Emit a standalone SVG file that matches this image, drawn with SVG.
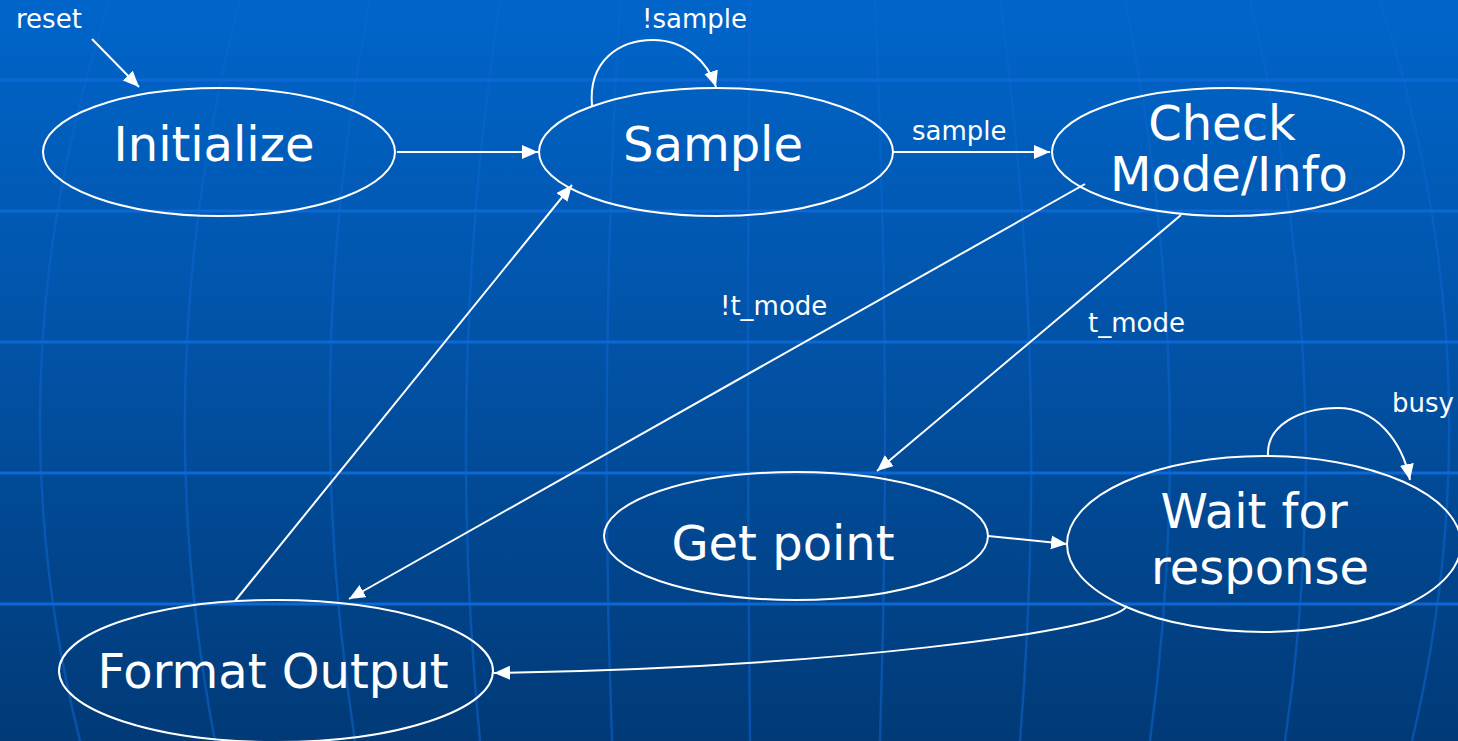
<svg xmlns="http://www.w3.org/2000/svg" width="1458" height="741" viewBox="0 0 1458 741">
  <defs>
    <linearGradient id="bg" x1="0" y1="0" x2="0" y2="1">
      <stop offset="0" stop-color="#0065ca"/>
      <stop offset="0.5" stop-color="#0251a4"/>
      <stop offset="1" stop-color="#013a77"/>
    </linearGradient>
    <marker id="arr" markerUnits="userSpaceOnUse" markerWidth="18" markerHeight="16" refX="16" refY="7" orient="auto">
      <path d="M0,0 L16,7 L0,14 z" fill="#ffffff"/>
    </marker>
    <style>
      .node ellipse { fill: none; stroke: #ffffff; stroke-width: 2; }
      .big { font-family: "DejaVu Sans", Verdana, sans-serif; font-size: 48px; fill: #ffffff; text-anchor: middle; }
      .lbl { font-family: "DejaVu Sans", Verdana, sans-serif; font-size: 26px; fill: #ffffff; }
      .edge { fill: none; stroke: #ffffff; stroke-width: 2; marker-end: url(#arr); }
      .hgrid { stroke: #0c68d4; stroke-width: 3; }
      .vgrid { fill: none; stroke: #0c66d0; stroke-width: 2.5; opacity: 0.55; }
    </style>
  </defs>

  <rect x="0" y="0" width="1458" height="741" fill="url(#bg)"/>

  <g id="grid">
    <path class="vgrid" d="M110,0 Q-13,370 80,741"/>
    <path class="vgrid" d="M240,0 Q144,370 215,741"/>
    <path class="vgrid" d="M370,0 Q298,370 355,741"/>
    <path class="vgrid" d="M500,0 Q444,370 480,741"/>
    <path class="vgrid" d="M620,0 Q598,370 612,741"/>
    <path class="vgrid" d="M750,0 Q746,370 750,741"/>
    <path class="vgrid" d="M875,0 Q892,370 880,741"/>
    <path class="vgrid" d="M1000,0 Q1050,370 1020,741"/>
    <path class="vgrid" d="M1125,0 Q1200,370 1150,741"/>
    <path class="vgrid" d="M1250,0 Q1340,370 1285,741"/>
    <path class="vgrid" d="M1380,0 Q1500,370 1412,741"/>
    <line class="hgrid" x1="0" y1="80" x2="1458" y2="80"/>
    <line class="hgrid" x1="0" y1="211" x2="1458" y2="211"/>
    <line class="hgrid" x1="0" y1="342" x2="1458" y2="342"/>
    <line class="hgrid" x1="0" y1="473" x2="1458" y2="473"/>
    <line class="hgrid" x1="0" y1="604" x2="1458" y2="604"/>
  </g>

  <g id="connectors">
    <line class="edge" x1="92" y1="39" x2="139" y2="87"/>
    <line class="edge" x1="397" y1="152" x2="538" y2="152"/>
    <path class="edge" d="M592,106 C588,60 620,40 653,40 C685,40 708,62 716,87"/>
    <line class="edge" x1="893" y1="152" x2="1050" y2="152"/>
    <line class="edge" x1="1085" y1="184" x2="349" y2="599"/>
    <line class="edge" x1="1181" y1="215" x2="877" y2="471"/>
    <line class="edge" x1="235" y1="601" x2="572" y2="185"/>
    <line class="edge" x1="988" y1="536" x2="1067" y2="544"/>
    <path class="edge" d="M1268,456 C1266,425 1300,408 1338,408 C1375,408 1402,440 1410,480"/>
    <path class="edge" d="M1127,606 C1112,632 820,668 494,673"/>
    <text class="lbl" x="16" y="28">reset</text>
    <text class="lbl" x="642" y="28">!sample</text>
    <text class="lbl" x="912" y="140">sample</text>
    <text class="lbl" x="720" y="315">!t_mode</text>
    <text class="lbl" x="1088" y="332">t_mode</text>
    <text class="lbl" x="1392" y="412">busy</text>
  </g>

  <g id="initialize" class="node">
    <ellipse cx="219" cy="152" rx="176" ry="64"/>
    <text class="big" x="214" y="161">Initialize</text>
  </g>
  <g id="sample" class="node">
    <ellipse cx="716" cy="152" rx="177" ry="64"/>
    <text class="big" x="713" y="161">Sample</text>
  </g>
  <g id="check" class="node">
    <ellipse cx="1228" cy="152" rx="176" ry="64"/>
    <text class="big" x="1222" y="140">Check</text>
    <text class="big" x="1229" y="191">Mode/Info</text>
  </g>
  <g id="getpoint" class="node">
    <ellipse cx="796" cy="536" rx="192" ry="64"/>
    <text class="big" x="783" y="560">Get point</text>
  </g>
  <g id="wait" class="node">
    <ellipse cx="1264" cy="544" rx="197" ry="88"/>
    <text class="big" x="1254" y="528">Wait for</text>
    <text class="big" x="1260" y="584">response</text>
  </g>
  <g id="format" class="node">
    <ellipse cx="276" cy="671" rx="217" ry="71"/>
    <text class="big" x="273" y="688">Format Output</text>
  </g>
</svg>
